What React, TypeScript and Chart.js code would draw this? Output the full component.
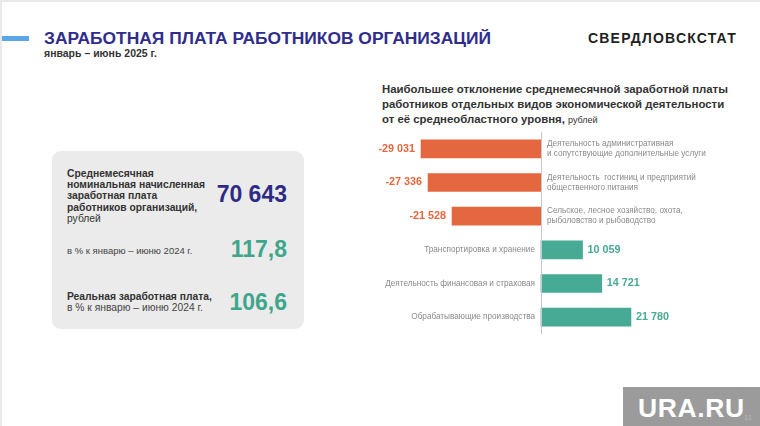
import React, { useEffect, useRef } from "react";
import { Chart, registerables } from "chart.js";

Chart.register(...registerables);

const categories: string[][] = [
  ["Деятельность административная", "и сопутствующие дополнительные услуги"],
  ["Деятельность  гостиниц и предприятий", "общественного питания"],
  ["Сельское, лесное хозяйство, охота,", "рыболовство и рыбоводство"],
  ["Транспортировка и хранение"],
  ["Деятельность финансовая и страховая"],
  ["Обрабатывающие производства"],
];
const deviations: number[] = [-29031, -27336, -21528, 10059, 14721, 21780];
const valueLabels: string[] = ["-29 031", "-27 336", "-21 528", "10 059", "14 721", "21 780"];

const ORANGE = "#E4673F";
const TEAL = "#47AA94";
const FONT = "'Liberation Sans', Arial, sans-serif";

const labelPlugin = {
  id: "sideLabels",
  afterDatasetsDraw(chart: any) {
    const ctx = chart.ctx;
    const meta = chart.getDatasetMeta(0);
    const xs = chart.scales.x;
    const zeroX = xs.getPixelForValue(0);
    ctx.save();
    ctx.strokeStyle = "#c8c8c8";
    ctx.lineWidth = 1;
    ctx.beginPath();
    ctx.moveTo(Math.round(zeroX) + 0.5, 0);
    ctx.lineTo(Math.round(zeroX) + 0.5, chart.height);
    ctx.stroke();
    meta.data.forEach((bar: any, i: number) => {
      const v = deviations[i];
      const y = bar.y;
      const neg = v < 0;
      ctx.font = `bold 10.8px ${FONT}`;
      ctx.fillStyle = neg ? ORANGE : TEAL;
      ctx.textBaseline = "middle";
      if (neg) {
        ctx.textAlign = "right";
        ctx.fillText(valueLabels[i], bar.x - 6, y);
      } else {
        ctx.textAlign = "left";
        ctx.fillText(valueLabels[i], bar.x + 5, y);
      }
      ctx.font = `8.2px ${FONT}`;
      ctx.fillStyle = "#8a8a8a";
      const lines = categories[i];
      const lh = 10;
      const startY = y - ((lines.length - 1) * lh) / 2;
      lines.forEach((ln, j) => {
        if (neg) {
          ctx.textAlign = "left";
          ctx.fillText(ln, zeroX + 6, startY + j * lh);
        } else {
          ctx.textAlign = "right";
          ctx.fillText(ln, zeroX - 6, startY + j * lh);
        }
      });
    });
    ctx.restore();
  },
};

function BarChart() {
  const ref = useRef<HTMLCanvasElement>(null);
  useEffect(() => {
    if (!ref.current) return;
    const chart = new Chart(ref.current, {
      type: "bar",
      data: {
        labels: categories.map((c) => c.join(" ")),
        datasets: [
          {
            data: deviations,
            backgroundColor: deviations.map((v) => (v < 0 ? ORANGE : TEAL)),
            borderWidth: 0,
            barThickness: 18,
          },
        ],
      },
      options: {
        indexAxis: "y",
        animation: false,
        responsive: false,
        maintainAspectRatio: false,
        layout: { padding: 0 },
        plugins: { legend: { display: false }, tooltip: { enabled: false }, title: { display: false } },
        scales: {
          x: { display: false, min: -40900, max: 53500 },
          y: { display: false },
        },
      },
      plugins: [labelPlugin],
    });
    return () => chart.destroy();
  }, []);
  return (
    <canvas
      ref={ref}
      width={390}
      height={202}
      style={{ position: "absolute", left: 370, top: 130, width: 390, height: 202 }}
    />
  );
}

export default function App() {
  const abs = (s: React.CSSProperties): React.CSSProperties => ({ position: "absolute", ...s });
  return (
    <div
      style={{
        position: "fixed",
        left: 0,
        top: 0,
        width: 760,
        height: 426,
        background: "#ffffff",
        overflow: "hidden",
        fontFamily: FONT,
        borderTop: "2px solid #e9e9e9",
        borderLeft: "2px solid #e9e9e9",
        boxSizing: "border-box",
      }}
    >
      <div style={abs({ left: -2, top: 34, width: 29, height: 5, background: "#5AA6E6" })} />
      <div style={abs({ left: 42, top: 26, fontSize: 17.4, fontWeight: 700, color: "#2F2C8E", whiteSpace: "nowrap" })}>
        ЗАРАБОТНАЯ ПЛАТА РАБОТНИКОВ ОРГАНИЗАЦИЙ
      </div>
      <div style={abs({ left: 42, top: 45, fontSize: 10.5, fontWeight: 700, color: "#333", whiteSpace: "nowrap" })}>
        январь – июнь 2025 г.
      </div>
      <div
        style={abs({
          left: 586,
          top: 28,
          fontSize: 14,
          fontWeight: 700,
          color: "#1f1f1f",
          letterSpacing: 1.2,
          whiteSpace: "nowrap",
        })}
      >
        СВЕРДЛОВСКСТАТ
      </div>

      <div style={abs({ left: 380, top: 80, fontSize: 11.4, fontWeight: 700, color: "#333", lineHeight: "15px", whiteSpace: "nowrap" })}>
        Наибольшее отклонение среднемесячной заработной платы
        <br />
        работников отдельных видов экономической деятельности
        <br />
        от её среднеобластного уровня, <span style={{ fontWeight: 400, fontSize: 9 }}>рублей</span>
      </div>

      <div style={abs({ left: 50, top: 149, width: 252, height: 178, background: "#ebebeb", borderRadius: 9 })} />
      <div style={abs({ left: 65, top: 166, fontSize: 10.3, lineHeight: "11.2px", fontWeight: 700, color: "#333" })}>
        Среднемесячная
        <br />
        номинальная начисленная
        <br />
        заработная плата
        <br />
        работников организаций,
        <br />
        <span style={{ fontWeight: 400 }}>рублей</span>
      </div>
      <div style={abs({ left: 180, width: 105, textAlign: "right", top: 179, fontSize: 23, fontWeight: 700, color: "#2E2B86" })}>
        70 643
      </div>
      <div style={abs({ left: 65, top: 243, fontSize: 9.5, color: "#444", whiteSpace: "nowrap" })}>
        в % к январю – июню 2024 г.
      </div>
      <div style={abs({ left: 180, width: 105, textAlign: "right", top: 234, fontSize: 23, fontWeight: 700, color: "#3FA68C" })}>
        117,8
      </div>
      <div style={abs({ left: 65, top: 289, fontSize: 10.3, lineHeight: "11px", color: "#444", whiteSpace: "nowrap" })}>
        <span style={{ fontWeight: 700, color: "#333" }}>Реальная заработная плата,</span>
        <br />
        в % к январю – июню 2024 г.
      </div>
      <div style={abs({ left: 180, width: 105, textAlign: "right", top: 287, fontSize: 23, fontWeight: 700, color: "#3FA68C" })}>
        106,6
      </div>

      <BarChart />

      <div
        style={abs({
          left: 621,
          top: 385,
          width: 145,
          height: 44,
          background: "#9b9b9b",
          color: "#ffffff",
          fontSize: 26.5,
          fontWeight: 700,
          lineHeight: "42px",
          paddingLeft: 15,
          letterSpacing: 0.6,
          boxSizing: "border-box",
        })}
      >
        URA.RU
      </div>
      <div style={abs({ left: 742, top: 411, fontSize: 8, color: "#b5b5b5" })}>11</div>
    </div>
  );
}
